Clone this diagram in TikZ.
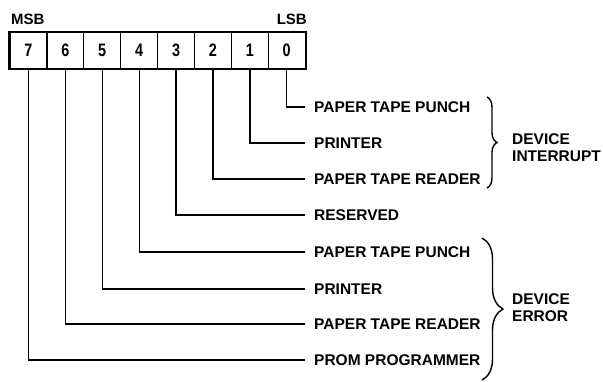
\documentclass[tikz,border=0pt]{standalone}
\usepackage{fontspec}
\setmainfont{Liberation Sans}
\usetikzlibrary{decorations.pathreplacing}
\begin{document}
\begin{tikzpicture}[x=1pt,y=-1pt,
  cell/.style={draw, line width=1.2pt, minimum width=36.9pt, minimum height=36pt, inner sep=0pt, font=\bfseries\fontsize{18}{18}\selectfont},
  lbl/.style={anchor=west, inner xsep=9pt, inner ysep=0pt, font=\bfseries\fontsize{15.5}{15.5}\selectfont},
  grp/.style={anchor=west, align=left, inner sep=0pt, font=\bfseries\fontsize{15.5}{17}\selectfont},
  wire/.style={line width=1.3pt},
  brc/.style={decorate, decoration={brace, amplitude=#1}, line width=1.4pt}
]
\useasboundingbox (0,0) rectangle (603,381);
\foreach \i in {0,...,7} {
  \node[cell] (b\i) at ({28.45+36.9*(7-\i)}, 50.5) {\scalebox{0.8}[1]{\i}};
}
\draw[line width=2.6pt] (b7.north west) rectangle (b0.south east);
\node[anchor=base west, inner sep=0pt, font=\bfseries\fontsize{15}{15}\selectfont] (msb) at (11,24) {MSB};
\node[anchor=base east, inner sep=0pt, font=\bfseries\fontsize{15}{15}\selectfont] (lsb) at (307,24) {LSB};
\node[lbl] (l0) at (305,107) {PAPER TAPE PUNCH};
\node[lbl] (l1) at (305,143) {PRINTER};
\node[lbl] (l2) at (305,179) {PAPER TAPE READER};
\node[lbl] (l3) at (305,215) {RESERVED};
\node[lbl] (l4) at (305,252) {PAPER TAPE PUNCH};
\node[lbl] (l5) at (305,289) {PRINTER};
\node[lbl] (l6) at (305,324) {PAPER TAPE READER};
\node[lbl] (l7) at (305,360) {PROM PROGRAMMER};
\foreach \i in {0,...,7} {
  \draw[wire] (b\i.south) |- (l\i.west);
}
\coordinate (ia) at (487,97);
\coordinate (ib) at (487,188);
\coordinate (ea) at (482,238);
\coordinate (eb) at (482,380);
\draw[brc=10pt] (ia) -- (ib);
\draw[brc=21pt] (ea) -- (eb);
\node[grp] (gi) at (512,148) {DEVICE\\INTERRUPT};
\node[grp] (ge) at (512,308) {DEVICE\\ERROR};
\end{tikzpicture}
\end{document}
